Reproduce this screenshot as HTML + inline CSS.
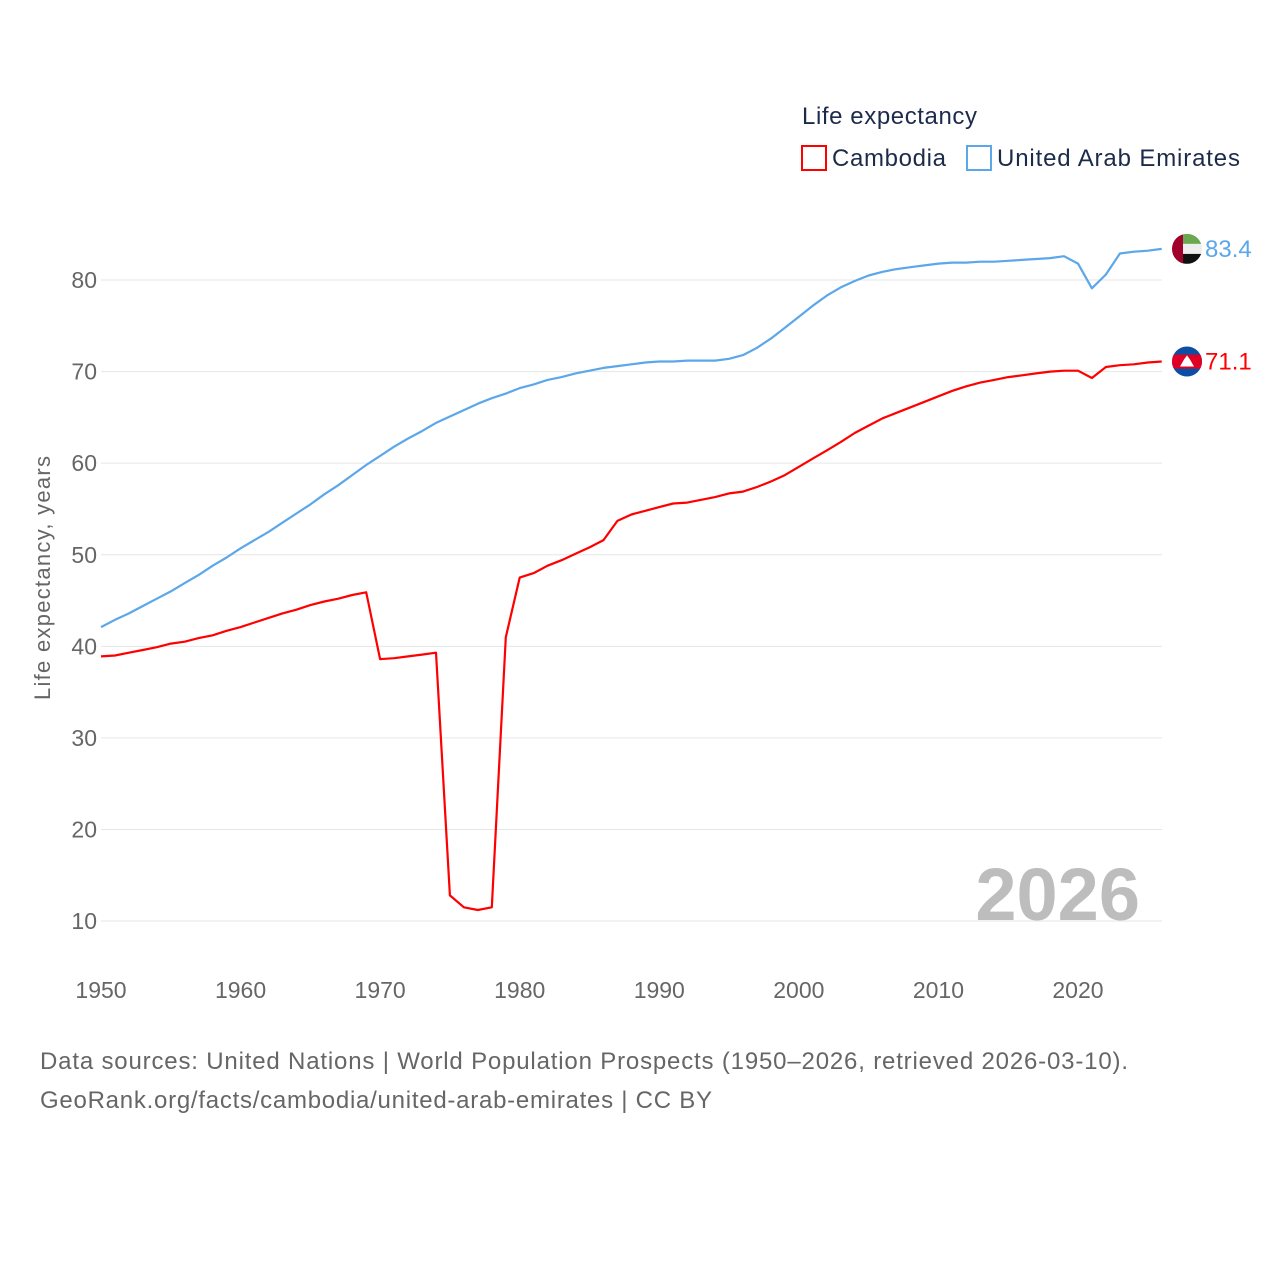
<!DOCTYPE html>
<html><head><meta charset="utf-8"><style>
body{margin:0;background:#fff;font-family:"Liberation Sans",sans-serif}
svg text{font-family:"Liberation Sans",sans-serif}
</style></head><body>
<svg width="1280" height="1280" viewBox="0 0 1280 1280">
<g id="grid"></g>
<g id="yt"></g>
<g id="xt"></g>
<text x="50" y="578" transform="rotate(-90 50 578)" text-anchor="middle" font-size="22" fill="#666" textLength="244">Life expectancy, years</text>
<text x="1140" y="920" text-anchor="end" font-size="74" font-weight="bold" fill="#bdbdbd">2026</text>
<g id="lines"></g>
<text x="802" y="124" font-size="24" fill="#1d2b4a" textLength="175">Life expectancy</text>
<g><rect x="802" y="146" width="24" height="24" fill="none" stroke="#f00" stroke-width="2"/><text x="832" y="166" font-size="24" fill="#1d2b4a" textLength="114">Cambodia</text></g>
<g><rect x="967" y="146" width="24" height="24" fill="none" stroke="#5ba7ea" stroke-width="2"/><text x="997" y="166" font-size="24" fill="#1d2b4a" textLength="243">United Arab Emirates</text></g>
<g id="ends"></g>
<text x="40" y="1069" font-size="24" fill="#666" textLength="1088">Data sources: United Nations | World Population Prospects (1950–2026, retrieved 2026-03-10).</text>
<text x="40" y="1108" font-size="24" fill="#666" textLength="672">GeoRank.org/facts/cambodia/united-arab-emirates | CC BY</text>
</svg>
<script>
const years=[];for(let y=1950;y<=2026;y++)years.push(y);
const cambodia=[38.9,39.0,39.3,39.6,39.9,40.3,40.5,40.9,41.2,41.7,42.1,42.6,43.1,43.6,44.0,44.5,44.9,45.2,45.6,45.9,38.6,38.7,38.9,39.1,39.3,12.8,11.5,11.2,11.5,41.0,47.5,48.0,48.8,49.4,50.1,50.8,51.6,53.7,54.4,54.8,55.2,55.6,55.7,56.0,56.3,56.7,56.9,57.4,58.0,58.7,59.6,60.5,61.4,62.3,63.3,64.1,64.9,65.5,66.1,66.7,67.3,67.9,68.4,68.8,69.1,69.4,69.6,69.8,70.0,70.1,70.1,69.3,70.5,70.7,70.8,71.0,71.1];
const uae=[42.1,42.9,43.6,44.4,45.2,46.0,46.9,47.8,48.8,49.7,50.7,51.6,52.5,53.5,54.5,55.5,56.6,57.6,58.7,59.8,60.8,61.8,62.7,63.5,64.4,65.1,65.8,66.5,67.1,67.6,68.2,68.6,69.1,69.4,69.8,70.1,70.4,70.6,70.8,71.0,71.1,71.1,71.2,71.2,71.2,71.4,71.8,72.6,73.6,74.8,76.0,77.2,78.3,79.2,79.9,80.5,80.9,81.2,81.4,81.6,81.8,81.9,81.9,82.0,82.0,82.1,82.2,82.3,82.4,82.6,81.8,79.1,80.6,82.9,83.1,83.2,83.4];
const yTicks=[10,20,30,40,50,60,70,80];
const xTicks=[1950,1960,1970,1980,1990,2000,2010,2020];
const NS="http://www.w3.org/2000/svg";
const X=y=>101+(y-1950)*13.957;
const Y=v=>1012.6-v*9.157;
function mk(t,a,p){const e=document.createElementNS(NS,t);for(const k in a)e.setAttribute(k,a[k]);p.appendChild(e);return e;}
const grid=document.getElementById('grid'),yt=document.getElementById('yt'),xt=document.getElementById('xt');
yTicks.forEach(v=>{
 const l=mk('line',{x1:101,x2:1162,y1:Y(v),y2:Y(v),stroke:'#e6e6e6','stroke-width':1},grid);
 
 
 const t=mk('text',{x:97,y:Y(v)+8,'text-anchor':'end','font-size':23,fill:'#666'},yt);t.textContent=v;
 
 
});
xTicks.forEach(v=>{
 const t=mk('text',{x:X(v),y:998,'text-anchor':'middle','font-size':23,fill:'#666'},xt);t.textContent=v;
 
 
});
const lines=document.getElementById('lines');
function line(vals,col,name){
 const d=vals.map((v,i)=>(i?'L':'M')+X(years[i]).toFixed(1)+' '+Y(v).toFixed(1)).join(' ');
 const p=mk('path',{d:d,fill:'none',stroke:col,'stroke-width':2.2,'stroke-linejoin':'round'},lines);
 
 
}
line(uae,'#5ba7ea','uae-line');
line(cambodia,'#f00','cambodia-line');
const ends=document.getElementById('ends');
function end(vals,col,name,flag){
 const v=vals[vals.length-1],cy=Y(v),cx=1187;
 const g=mk('g',{},ends);
 
 
 const cp=mk('clipPath',{id:'c'+name},g);mk('circle',{cx:cx,cy:cy,r:15},cp);
 const f=mk('g',{'clip-path':'url(#c'+name+')'},g);
 flag(f,cx,cy);
 const t=mk('text',{x:1205,y:cy+8,'font-size':24,fill:col},g);t.textContent=v.toFixed(1);
}
end(uae,'#5ba7ea','uae-end-label',(f,cx,cy)=>{
 mk('rect',{x:cx-15,y:cy-15,width:30,height:10,fill:'#6aa84f'},f);
 mk('rect',{x:cx-15,y:cy-5,width:30,height:10,fill:'#eee'},f);
 mk('rect',{x:cx-15,y:cy+5,width:30,height:10,fill:'#111'},f);
 mk('rect',{x:cx-15,y:cy-15,width:11,height:30,fill:'#a0002a'},f);
});
end(cambodia,'#f00','cambodia-end-label',(f,cx,cy)=>{
 mk('rect',{x:cx-15,y:cy-15,width:30,height:30,fill:'#0b4ea2'},f);
 mk('rect',{x:cx-15,y:cy-7,width:30,height:14,fill:'#e00025'},f);
 mk('path',{d:`M${cx-7} ${cy+5} L${cx-3} ${cy-2} L${cx} ${cy-6} L${cx+3} ${cy-2} L${cx+7} ${cy+5} Z`,fill:'#fff'},f);
});
</script>
</body></html>
